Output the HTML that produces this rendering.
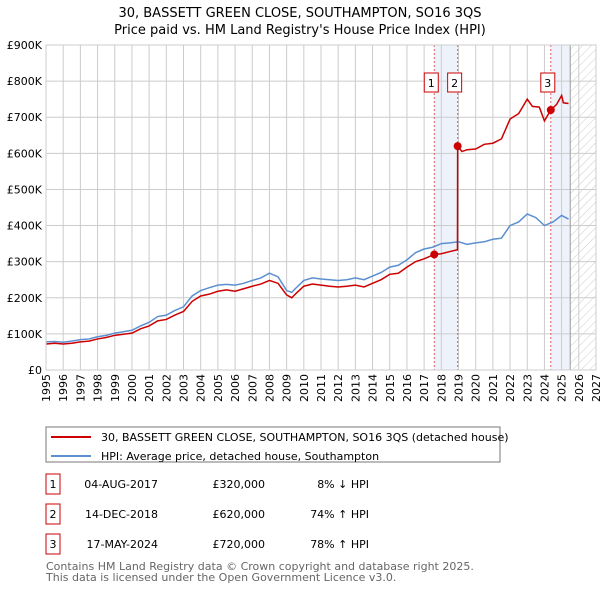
<!DOCTYPE html>
<html><head><meta charset="utf-8"><style>
body{margin:0;background:#fff;font-family:"Liberation Sans","DejaVu Sans",sans-serif;}
svg text{font-family:"DejaVu Sans","Liberation Sans",sans-serif;}
</style></head><body>
<svg id="c" width="600" height="590" xmlns="http://www.w3.org/2000/svg">
<defs><pattern id="hatch" width="6" height="6" patternUnits="userSpaceOnUse" patternTransform="rotate(45)"><line x1="0" y1="0" x2="0" y2="6" stroke="#ccc" stroke-width="1"/></pattern></defs>
<text x="300" y="17" text-anchor="middle" font-size="13">30, BASSETT GREEN CLOSE, SOUTHAMPTON, SO16 3QS</text>
<text x="300" y="34" text-anchor="middle" font-size="13">Price paid vs. HM Land Registry's House Price Index (HPI)</text>
<g id="plot"></g>
<g>
<rect x="46" y="427" width="454" height="35" fill="#fff" stroke="#777"/>
<line x1="51" y1="437" x2="91" y2="437" stroke="#cc0000" stroke-width="2"/>
<text x="101" y="441" font-size="11">30, BASSETT GREEN CLOSE, SOUTHAMPTON, SO16 3QS (detached house)</text>
<line x1="51" y1="456" x2="91" y2="456" stroke="#5b8fd0" stroke-width="2"/>
<text x="101" y="460" font-size="11">HPI: Average price, detached house, Southampton</text>
</g>
<g id="tbl" font-size="11"></g>
<text x="46" y="570" font-size="11" fill="#666">Contains HM Land Registry data © Crown copyright and database right 2025.</text>
<text x="46" y="581" font-size="11" fill="#666">This data is licensed under the Open Government Licence v3.0.</text>
</svg>
<script>
const hpiYears=[1995,1995.5,1996,1996.5,1997,1997.5,1998,1998.5,1999,1999.5,2000,2000.5,2001,2001.5,2002,2002.5,2003,2003.5,2004,2004.5,2005,2005.5,2006,2006.5,2007,2007.5,2008,2008.5,2009,2009.3,2009.5,2010,2010.5,2011,2011.5,2012,2012.5,2013,2013.5,2014,2014.5,2015,2015.5,2016,2016.5,2017,2017.5,2018,2018.5,2019,2019.5,2020,2020.5,2021,2021.5,2022,2022.5,2023,2023.5,2024,2024.5,2025,2025.4];
const hpiValues=[78,79,77,80,84,86,92,96,102,106,110,122,132,148,152,165,175,205,220,228,235,237,235,240,248,255,268,258,220,215,225,248,255,252,250,248,250,255,250,260,270,285,290,305,325,335,340,350,352,355,348,352,355,362,365,400,410,432,422,400,410,428,418];
const priceYears=[1995,1995.5,1996,1996.5,1997,1997.5,1998,1998.5,1999,1999.5,2000,2000.5,2001,2001.5,2002,2002.5,2003,2003.5,2004,2004.5,2005,2005.5,2006,2006.5,2007,2007.5,2008,2008.5,2009,2009.3,2009.5,2010,2010.5,2011,2011.5,2012,2012.5,2013,2013.5,2014,2014.5,2015,2015.5,2016,2016.5,2017,2017.59,2018,2018.5,2018.94,2018.95,2019.2,2019.5,2020,2020.5,2021,2021.5,2022,2022.5,2023,2023.3,2023.7,2024,2024.37,2024.7,2025,2025.1,2025.4];
const priceValues=[72,74,72,74,78,80,86,90,96,99,102,114,122,136,140,152,162,190,205,210,218,222,218,225,232,238,248,240,208,200,210,232,238,235,232,230,232,235,230,240,250,265,268,285,300,308,320,322,328,333,620,605,610,612,625,628,640,695,710,750,730,728,690,720,735,760,740,738];
const saleYears=[2017.59,2018.95,2024.37];
const salePrices=[320,620,720];
const saleLabels=["1","2","3"];
const saleDates=["04-AUG-2017","14-DEC-2018","17-MAY-2024"];
const salePriceText=["£320,000","£620,000","£720,000"];
const saleHpiText=["8% ↓ HPI","74% ↑ HPI","78% ↑ HPI"];
const yTicks=[0,100,200,300,400,500,600,700,800,900];
const yTickLabels=["£0","£100K","£200K","£300K","£400K","£500K","£600K","£700K","£800K","£900K"];
const xTicks=[1995,1996,1997,1998,1999,2000,2001,2002,2003,2004,2005,2006,2007,2008,2009,2010,2011,2012,2013,2014,2015,2016,2017,2018,2019,2020,2021,2022,2023,2024,2025,2026,2027];

const X0=46,X1=596,Y0=370,Y1=45;
const sx=y=>X0+(y-1995)/(2027-1995)*(X1-X0);
const sy=v=>Y0-v/900*(Y0-Y1);
const NS="http://www.w3.org/2000/svg";
const g=document.getElementById('plot');
function mk(t,a,p){const e=document.createElementNS(NS,t);for(const k in a)e.setAttribute(k,a[k]);(p||g).appendChild(e);return e;}
let e=mk('rect',{x:sx(saleYears[0]),y:Y1,width:sx(saleYears[1])-sx(saleYears[0]),height:Y0-Y1,fill:'#eef3fb'});


e=mk('rect',{x:sx(saleYears[2]),y:Y1,width:sx(2025.5)-sx(saleYears[2]),height:Y0-Y1,fill:'#eef3fb'});


e=mk('rect',{x:sx(2025.5),y:Y1,width:X1-sx(2025.5),height:Y0-Y1,fill:'url(#hatch)'});


xTicks.forEach(t=>{
 mk('line',{x1:sx(t),x2:sx(t),y1:Y1,y2:Y0,stroke:'#ccc','stroke-width':1});
 const x=sx(t)+4,y=Y0+4;
 const tx=mk('text',{x:x,y:y,'text-anchor':'end','font-size':11,transform:'rotate(-90 '+x+' '+y+')'});
 tx.textContent=t;
 
 
});
yTicks.forEach((t,i)=>{
 mk('line',{x1:X0,x2:X1,y1:sy(t),y2:sy(t),stroke:'#ccc','stroke-width':1});
 const tx=mk('text',{x:X0-4,y:sy(t)+4,'text-anchor':'end','font-size':11});
 tx.textContent=yTickLabels[i];
 
 
});
mk('line',{x1:sx(2025.5),x2:sx(2025.5),y1:Y1,y2:Y0,stroke:'#999','stroke-width':1});
saleYears.forEach(s=>{mk('line',{x1:sx(s),x2:sx(s),y1:Y1,y2:Y0,stroke:'#e06060','stroke-width':1,'stroke-dasharray':'2,2'});});
e=mk('polyline',{points:hpiYears.map((y,i)=>sx(y)+','+sy(hpiValues[i])).join(' '),fill:'none',stroke:'#5b8fd0','stroke-width':1.5});


e=mk('polyline',{points:priceYears.map((y,i)=>sx(y)+','+sy(priceValues[i])).join(' '),fill:'none',stroke:'#cc0000','stroke-width':1.5});


saleYears.forEach((s,i)=>{
 const d=mk('circle',{cx:sx(s),cy:sy(salePrices[i]),r:4,fill:'#cc0000'});
 
 
});
const lx=[sx(saleYears[0])-3,sx(saleYears[1])-3,sx(saleYears[2])-3];
saleLabels.forEach((l,i)=>{
 const r=mk('rect',{x:lx[i]-7,y:73,width:14,height:19,fill:'#fff',stroke:'#cc0000'});
 
 
 const t=mk('text',{x:lx[i],y:87,'text-anchor':'middle','font-size':11});
 t.textContent=l;
});
mk('rect',{x:X0,y:Y1,width:X1-X0,height:Y0-Y1,fill:'none',stroke:'#ccc'});
const tb=document.getElementById('tbl');
saleLabels.forEach((l,i)=>{
 const y=484+i*30;
 const r=mk('rect',{x:46,y:y-10,width:14,height:20,fill:'#fff',stroke:'#cc0000'},tb);
 
 
 let t=mk('text',{x:53,y:y+4,'text-anchor':'middle'},tb);t.textContent=l;
 t=mk('text',{x:158,y:y+4,'text-anchor':'end'},tb);t.textContent=saleDates[i];
 
 
 t=mk('text',{x:265,y:y+4,'text-anchor':'end'},tb);t.textContent=salePriceText[i];
 
 
 t=mk('text',{x:369,y:y+4,'text-anchor':'end'},tb);t.textContent=saleHpiText[i];
 
 
});
</script>
</body></html>
